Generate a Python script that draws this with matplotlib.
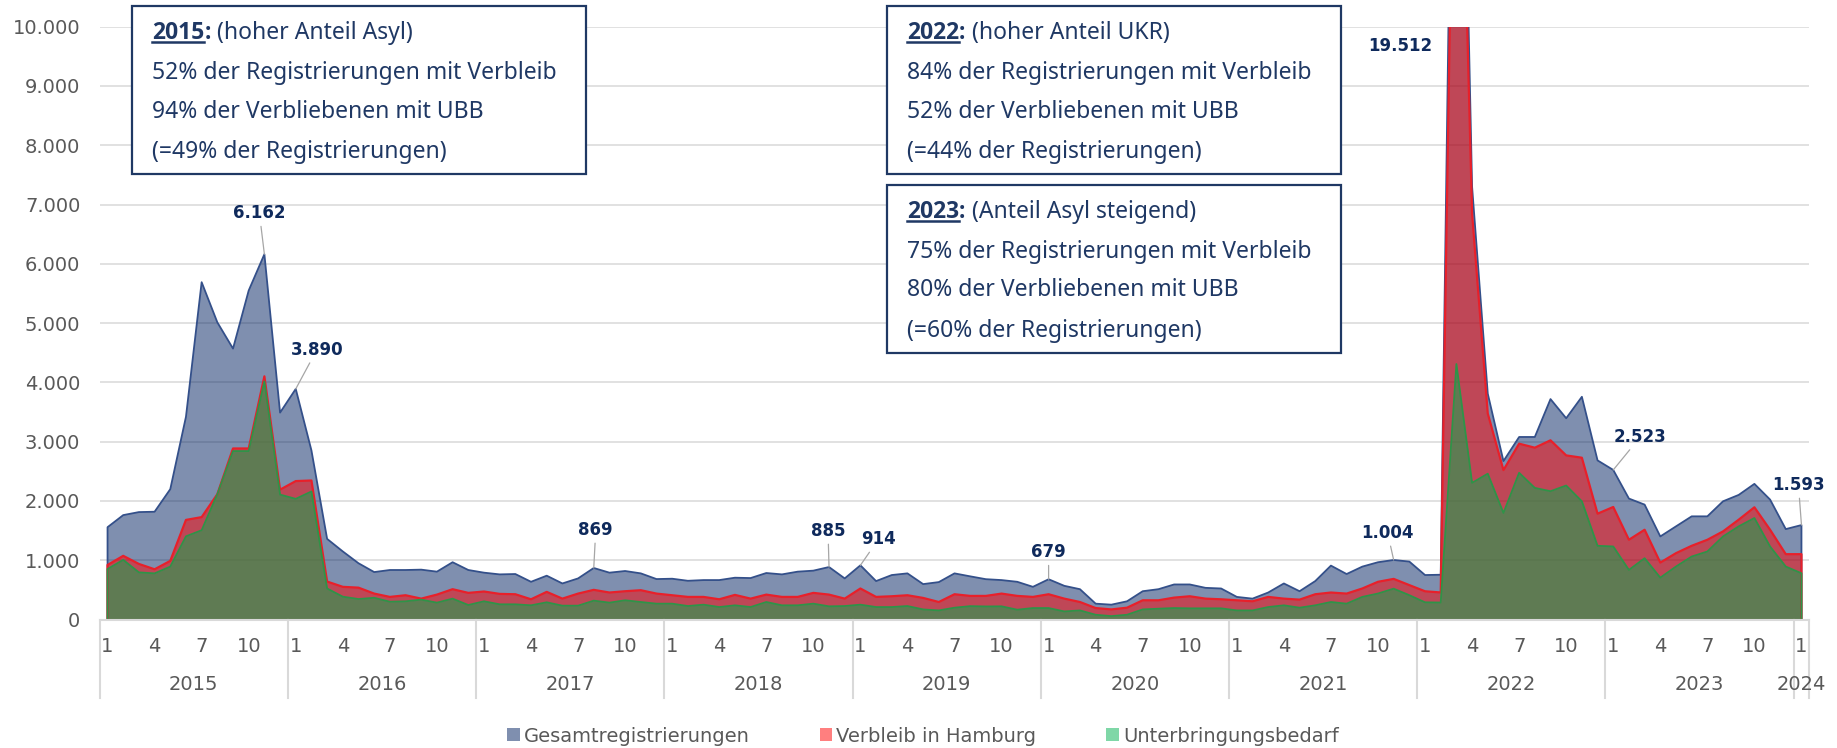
import numpy as np
import matplotlib
matplotlib.use("Agg")
import matplotlib.pyplot as plt
from matplotlib.patches import Rectangle, Patch
from matplotlib.lines import Line2D
import matplotlib.transforms as mtransforms
from matplotlib import font_manager

# ---------------- data ----------------
years = list(range(2015, 2025))
month_labels = [1, 4, 7, 10]
categories = [(y, m) for y in range(2015, 2024) for m in range(1, 13)] + [(2024, 1)]

gesamt = [1557, 1761, 1812, 1818, 2199, 3420, 5690, 5013, 4570, 5550, 6162, 3490,
          3890, 2852, 1360, 1148, 949, 800, 835, 835, 841, 807, 966, 835,
          790, 761, 767, 636, 739, 608, 693, 869, 790, 818, 778, 682,
          688, 653, 665, 665, 705, 699, 784, 761, 807, 824, 885, 693,
          914, 648, 750, 778, 597, 631, 778, 728, 680, 665, 636, 551,
          679, 568, 511, 267, 250, 307, 477, 511, 591, 591, 534, 523,
          381, 352, 455, 608, 477, 648, 909, 767, 892, 966, 1004, 977,
          750, 755, 19512, 7300, 3810, 2672, 3079, 3079, 3718, 3395, 3757, 2684,
          2523, 2040, 1938, 1401, 1571, 1740, 1740, 1994, 2102, 2288, 2023, 1525,
          1593]

verbleib = [920, 1074, 937, 847, 989, 1680, 1727, 2114, 2885, 2885, 4102, 2190,
            2335, 2345, 640, 551, 537, 437, 381, 409, 352, 420, 511, 449,
            472, 432, 426, 341, 466, 352, 437, 500, 455, 477, 494, 437,
            409, 381, 381, 341, 415, 352, 420, 381, 381, 449, 420, 352,
            523, 381, 392, 409, 364, 295, 426, 398, 398, 437, 398, 381,
            426, 352, 295, 193, 170, 199, 324, 324, 369, 392, 352, 341,
            324, 307, 381, 352, 335, 426, 455, 437, 523, 636, 685, 580,
            476, 456, 17000, 6850, 3475, 2520, 2966, 2898, 3023, 2768, 2729, 1785,
            1898, 1345, 1514, 960, 1119, 1243, 1345, 1486, 1684, 1893, 1514, 1102,
            1102]

ubb = [852, 1006, 795, 778, 892, 1403, 1506, 2114, 2841, 2841, 4017, 2107,
       2035, 2160, 523, 385, 345, 366, 300, 307, 335, 284, 352, 244,
       307, 256, 256, 239, 290, 233, 233, 318, 284, 324, 295, 267,
       267, 227, 250, 210, 239, 210, 295, 239, 239, 267, 222, 227,
       250, 210, 210, 227, 170, 153, 199, 225, 220, 222, 165, 193,
       193, 136, 153, 80, 57, 80, 170, 182, 193, 188, 188, 188,
       153, 153, 210, 239, 199, 239, 295, 267, 381, 438, 520, 410,
       290, 286, 4310, 2305, 2460, 1797, 2475, 2220, 2164, 2260, 1994, 1243,
       1232, 836, 1034, 706, 893, 1062, 1147, 1401, 1571, 1712, 1232, 893,
       780]

series_names = ["Gesamtregistrierungen", "Verbleib in Hamburg", "Unterbringungsbedarf"]

labelled_points = [10, 12, 31, 46, 48, 60, 82, 86, 96, 108]

box_years = ["2015", "2022", "2023"]
box_subtitles = ["(hoher Anteil Asyl)", "(hoher Anteil UKR)", "(Anteil Asyl steigend)"]
box_lines = [
    ["52% der Registrierungen mit Verbleib", "94% der Verbliebenen mit UBB", "(=49% der Registrierungen)"],
    ["84% der Registrierungen mit Verbleib", "52% der Verbliebenen mit UBB", "(=44% der Registrierungen)"],
    ["75% der Registrierungen mit Verbleib", "80% der Verbliebenen mit UBB", "(=60% der Registrierungen)"],
]

# ---------------- layout / style ----------------
W, H = 1837, 748
NAVY = "#1F3864"
LABEL_NAVY = "#0F2A5C"
GRAY_TXT = "#595959"
GRID = "#D9D9D9"

def fx(px):
    return px / W

def fy(py):
    return 1 - py / H

# pick a bold face that really exists for the box titles
def has_bold(fam):
    try:
        f = font_manager.findfont(font_manager.FontProperties(family=fam, weight="bold"),
                                  fallback_to_default=False)
        fp = font_manager.FontProperties(fname=f)
        return fp.get_weight() in ("bold", 700, "heavy", 800, 900, "semibold", 600) or "Bold" in f
    except Exception:
        return False

BOX_FONT = "Noto Sans"
BOLD_FONT = next((f for f in ["Noto Sans", "Open Sans", "Roboto", "Lato", "DejaVu Sans"] if has_bold(f)),
                 "DejaVu Sans")
BOX_SIZE = 16.5

fig = plt.figure(figsize=(W / 100, H / 100), dpi=100)
ax_left, ax_right, ax_top, ax_bottom = 99.7, 1809.3, 26.7, 619.5
ax = fig.add_axes([fx(ax_left), fy(ax_bottom), fx(ax_right) - fx(ax_left), fy(ax_top) - fy(ax_bottom)])

n = len(categories)
x = np.arange(n)

fill_cols = ["#002060", "#FF0000", "#00B050"]
edge_cols = ["#34508A", "#E8202A", "#2E9448"]
edge_lw = [1.3, 1.6, 1.3]
for vals, fc, ec, lw in zip([gesamt, verbleib, ubb], fill_cols, edge_cols, edge_lw):
    v = np.asarray(vals, dtype=float)
    ax.fill_between(x, 0, v, color=fc, alpha=0.5, lw=0, zorder=2)
    ax.plot(np.r_[x[0], x, x[-1]], np.r_[0, v, 0], color=ec, lw=lw, zorder=3)

ax.set_xlim(-0.5, n - 0.5)
ax.set_ylim(0, 10000)
ax.set_yticks(range(0, 10001, 1000))
ax.set_yticklabels([f"{v:,}".replace(",", ".") for v in range(0, 10001, 1000)])
ax.tick_params(axis="y", length=0, pad=14, labelsize=14, labelcolor=GRAY_TXT)
ax.set_xticks([])
ax.yaxis.grid(True, color=GRID, lw=1.1)
ax.set_axisbelow(True)
for s in ["left", "right", "top"]:
    ax.spines[s].set_visible(False)
ax.spines["bottom"].set_color(GRID)
ax.spines["bottom"].set_linewidth(1.5)
ax.spines["bottom"].set_zorder(4)

# two-level category axis
trans = mtransforms.blended_transform_factory(ax.transData, ax.transAxes)
ax_h = ax_bottom - ax_top
def ay(py):
    return (ax_bottom - py) / ax_h

sep_pos = [i - 0.5 for i, c in enumerate(categories) if c[1] == 1] + [n - 0.5]
for sx in sep_pos:
    ax.plot([sx, sx], [0, ay(698)], transform=trans, color=GRID, lw=1.5, clip_on=False)

for i, (yy, mm) in enumerate(categories):
    if mm in month_labels:
        ax.text(i, ay(646), str(mm), transform=trans, ha="center", va="center",
                fontsize=14, color=GRAY_TXT)
for yy in years:
    idx = [i for i, c in enumerate(categories) if c[0] == yy]
    ax.text((idx[0] + idx[-1]) / 2, ay(685), str(yy), transform=trans, ha="center",
            va="center", fontsize=14, color=GRAY_TXT)

# data labels (offsets in pixels relative to the point)
label_offsets = {10: (-5, 41, True), 12: (21, 39, True), 31: (2, 38, True),
                 46: (-1, 36, True), 48: (18, 26, True), 60: (0, 27, True),
                 82: (-6, 27, True), 86: (-56, -19, False), 96: (27, 33, True),
                 108: (-3, 40, True)}
for i in labelled_points:
    dx, dy, leader = label_offsets[i]
    txt = f"{gesamt[i]:,}".replace(",", ".")
    if leader:
        ax.annotate(txt, xy=(i, gesamt[i]), xytext=(dx, dy), textcoords="offset pixels",
                    ha="center", va="center", fontsize=12, fontweight="bold", color=LABEL_NAVY,
                    arrowprops=dict(arrowstyle="-", color="#A6A6A6", lw=0.9, shrinkA=1, shrinkB=0),
                    zorder=6, annotation_clip=False)
    else:
        ax.annotate(txt, xy=(i, 10000), xytext=(dx, dy), textcoords="offset pixels",
                    ha="center", va="center", fontsize=12, fontweight="bold", color=LABEL_NAVY,
                    zorder=6, annotation_clip=False)

# text boxes
box_rects = [(132, 6, 586, 174), (887, 6, 1341, 174), (887, 185, 1341, 353)]
renderer = fig.canvas.get_renderer()
for rect, yr, sub, lines in zip(box_rects, box_years, box_subtitles, box_lines):
    l, t, r, b = rect
    fig.add_artist(Rectangle((fx(l), fy(b)), fx(r) - fx(l), fy(t) - fy(b), transform=fig.transFigure,
                             fill=True, fc="white", ec=NAVY, lw=1.6, zorder=10))
    x0 = l + 20
    centers = [t + 25.7, t + 65.7, t + 104, t + 144]
    base = [c + 7.5 for c in centers]
    t1 = fig.text(fx(x0), fy(base[0]), yr, fontfamily=BOLD_FONT, fontsize=BOX_SIZE,
                  fontweight="bold", color=NAVY, va="baseline", zorder=11)
    bb1 = t1.get_window_extent(renderer)
    t2 = fig.text(bb1.x1 / W, fy(base[0]), ":", fontfamily=BOLD_FONT, fontsize=BOX_SIZE,
                  fontweight="bold", color=NAVY, va="baseline", zorder=11)
    bb2 = t2.get_window_extent(renderer)
    fig.text((bb2.x1 + 6) / W, fy(base[0]), sub, fontfamily=BOX_FONT, fontsize=BOX_SIZE,
             color=NAVY, va="baseline", zorder=11)
    fig.add_artist(Line2D([bb1.x0 / W, bb1.x1 / W], [fy(base[0] + 3)] * 2, transform=fig.transFigure,
                          color=NAVY, lw=1.8, zorder=11))
    for line, bl in zip(lines, base[1:]):
        fig.text(fx(x0), fy(bl), line, fontfamily=BOX_FONT, fontsize=BOX_SIZE, color=NAVY,
                 va="baseline", zorder=11)

# legend
legend_cols = ["#7F8FAF", "#FF7F7F", "#7FD7A7"]
handles = [Patch(facecolor=c, edgecolor="none", label=nm) for c, nm in zip(legend_cols, series_names)]
leg = fig.legend(handles=handles, loc="center", bbox_to_anchor=(fx(923), fy(736)), ncol=3,
                 frameon=False, fontsize=14, handlelength=0.65, handleheight=0.65,
                 handletextpad=0.2, columnspacing=3.6)
for txt in leg.get_texts():
    txt.set_color(GRAY_TXT)

fig.savefig("out.png", dpi=100)
